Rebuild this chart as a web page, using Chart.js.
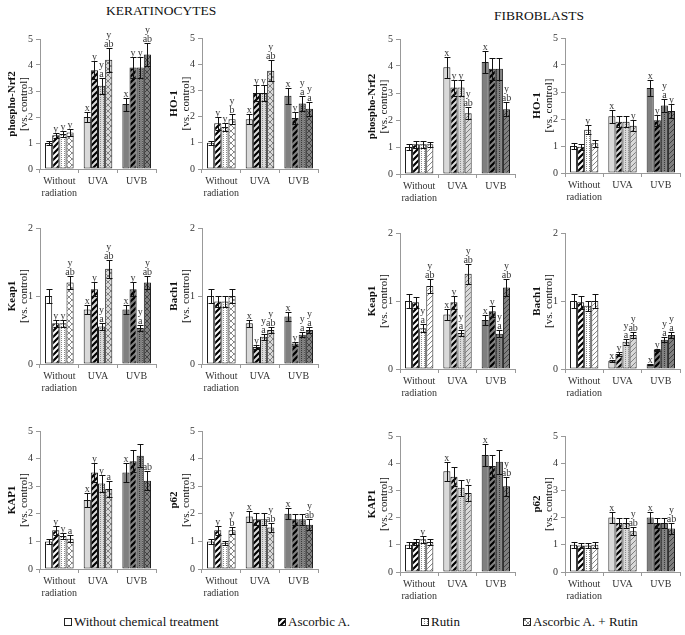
<!DOCTYPE html>
<html>
<head>
<meta charset="utf-8">
<script src="https://cdn.jsdelivr.net/npm/chart.js@4.4.1/dist/chart.umd.min.js"></script>
<style>
  body { margin: 0; background: #fff; width: 685px; height: 635px; overflow: hidden; position: relative;
         font-family: "Liberation Serif", "Times New Roman", serif; }
  canvas.panel { position: absolute; }
  .head { position: absolute; font-size: 13.5px; line-height: 14px; color: #111; }
  .leg { position: absolute; top: 614px; font-size: 13px; line-height: 16px; color: #111; white-space: nowrap; }
  .leg canvas { vertical-align: -1px; margin-right: 1px; }
</style>
</head>
<body>
<div class="head" style="left:106px;top:4px">KERATINOCYTES</div>
<div class="head" style="left:494px;top:9px">FIBROBLASTS</div>
<div class="leg" style="left:63px"><canvas class="sw" data-s="0" width="10" height="10"></canvas>Without chemical treatment</div>
<div class="leg" style="left:277px"><canvas class="sw" data-s="1" width="10" height="10"></canvas>Ascorbic A.</div>
<div class="leg" style="left:420px"><canvas class="sw" data-s="2" width="10" height="10"></canvas>Rutin</div>
<div class="leg" style="left:522px"><canvas class="sw" data-s="3" width="10" height="10"></canvas>Ascorbic A. + Rutin</div>
<script>
// categories and series
const GROUPS = [['Without', 'radiation'], 'UVA', 'UVB'];
const SERIES = ['Without chemical treatment', 'Ascorbic A.', 'Rutin', 'Ascorbic A. + Rutin'];

// values: one row per series, one column per group
const K_NRF2_MEAN = [[1.0, 2.0, 2.5], [1.3, 3.8, 3.9], [1.35, 3.2, 3.9], [1.4, 4.2, 4.4]];
const K_NRF2_ERR  = [[0.08, 0.2, 0.25], [0.1, 0.35, 0.4], [0.1, 0.3, 0.4], [0.13, 0.45, 0.45]];
const K_NRF2_SIG  = [['', 'x', 'x'], ['y', 'y', 'y'], ['y', 'y\na', 'y'], ['y', 'y\nab', 'y\nab']];

const K_HO1_MEAN = [[1.0, 1.9, 2.8], [1.75, 2.9, 1.95], [1.6, 2.9, 2.5], [1.9, 3.75, 2.3]];
const K_HO1_ERR  = [[0.08, 0.2, 0.3], [0.25, 0.3, 0.22], [0.15, 0.3, 0.3], [0.2, 0.4, 0.27]];
const K_HO1_SIG  = [['', 'x', 'x'], ['y', 'y', 'y'], ['y', 'y', 'y\na'], ['y\nb', 'y\nab', 'y\na']];

const F_NRF2_MEAN = [[1.0, 3.95, 4.15], [1.1, 3.2, 3.9], [1.1, 3.2, 3.9], [1.1, 2.25, 2.4]];
const F_NRF2_ERR  = [[0.1, 0.38, 0.42], [0.12, 0.3, 0.4], [0.12, 0.3, 0.4], [0.1, 0.22, 0.25]];
const F_NRF2_SIG  = [['', 'x', 'x'], ['', 'y', ''], ['', 'y', ''], ['', 'y\nab', 'y\nab']];

const F_HO1_MEAN = [[1.0, 2.1, 3.15], [0.97, 1.9, 1.95], [1.6, 1.9, 2.5], [1.1, 1.75, 2.3]];
const F_HO1_ERR  = [[0.1, 0.25, 0.3], [0.1, 0.2, 0.2], [0.17, 0.2, 0.25], [0.13, 0.2, 0.25]];
const F_HO1_SIG  = [['', 'x', 'x'], ['', '', 'y'], ['y', '', 'y\na'], ['', 'y', 'y']];

const K_KEAP1_MEAN = [[1.0, 0.8, 0.8], [0.6, 1.1, 1.1], [0.6, 0.55, 0.53], [1.2, 1.4, 1.2]];
const K_KEAP1_ERR  = [[0.1, 0.07, 0.07], [0.05, 0.1, 0.1], [0.05, 0.05, 0.05], [0.1, 0.13, 0.1]];
const K_KEAP1_SIG  = [['', 'x', 'x'], ['y', 'y', 'y'], ['y', 'y\na', 'y\na'], ['y\nab', 'y\nab', 'y\nab']];

const K_BACH1_MEAN = [[1.0, 0.6, 0.7], [0.92, 0.25, 0.3], [0.92, 0.4, 0.43], [1.0, 0.5, 0.5]];
const K_BACH1_ERR  = [[0.1, 0.05, 0.07], [0.08, 0.03, 0.03], [0.08, 0.04, 0.04], [0.1, 0.05, 0.05]];
const K_BACH1_SIG  = [['', 'x', 'x'], ['', 'y', 'y'], ['', 'y\na', 'y\na'], ['', 'y\nab', 'y\na']];

const F_KEAP1_MEAN = [[1.0, 0.8, 0.72], [0.98, 0.98, 0.85], [0.6, 0.53, 0.52], [1.22, 1.4, 1.2]];
const F_KEAP1_ERR  = [[0.1, 0.08, 0.07], [0.08, 0.1, 0.08], [0.06, 0.05, 0.05], [0.1, 0.15, 0.12]];
const F_KEAP1_SIG  = [['', 'x', 'x'], ['', 'y', 'y'], ['y\na', 'y\na', 'y\na'], ['y\nab', 'y\nab', 'y\nab']];

const F_BACH1_MEAN = [[1.0, 0.12, 0.07], [0.98, 0.22, 0.28], [0.93, 0.4, 0.43], [1.0, 0.5, 0.5]];
const F_BACH1_ERR  = [[0.1, 0.01, 0.01], [0.1, 0.03, 0.02], [0.07, 0.04, 0.04], [0.1, 0.05, 0.05]];
const F_BACH1_SIG  = [['', 'x', 'x'], ['', 'y', 'y'], ['', 'y\na', 'y\na'], ['', 'y\nab', 'y\na']];

const K_KAP1_MEAN = [[1.0, 2.5, 3.5], [1.4, 3.5, 3.9], [1.2, 3.1, 4.1], [1.1, 2.9, 3.2]];
const K_KAP1_ERR  = [[0.1, 0.25, 0.35], [0.15, 0.35, 0.4], [0.12, 0.3, 0.42], [0.12, 0.3, 0.35]];
const K_KAP1_SIG  = [['', 'x', 'x'], ['y', 'y', ''], ['y', 'y', ''], ['a', 'a', 'ab']];

const K_P62_MEAN = [[1.0, 1.9, 2.0], [1.4, 1.8, 1.8], [0.95, 1.8, 1.8], [1.4, 1.5, 1.6]];
const K_P62_ERR  = [[0.08, 0.2, 0.2], [0.15, 0.22, 0.2], [0.08, 0.22, 0.2], [0.12, 0.15, 0.2]];
const K_P62_SIG  = [['', 'x', 'x'], ['y', '', ''], ['', '', ''], ['y\nb', 'y\nab', 'y\nab']];

const F_KAP1_MEAN = [[1.0, 3.7, 4.3], [1.1, 3.5, 3.9], [1.2, 3.1, 4.05], [1.1, 2.9, 3.15]];
const F_KAP1_ERR  = [[0.1, 0.35, 0.4], [0.1, 0.35, 0.4], [0.12, 0.3, 0.45], [0.1, 0.3, 0.35]];
const F_KAP1_SIG  = [['', 'x', 'x'], ['', '', ''], ['y', '', ''], ['', 'y', 'y\nab']];

const F_P62_MEAN = [[1.0, 2.0, 2.0], [0.97, 1.8, 1.8], [0.97, 1.8, 1.8], [1.0, 1.5, 1.6]];
const F_P62_ERR  = [[0.1, 0.2, 0.2], [0.1, 0.2, 0.2], [0.1, 0.2, 0.2], [0.1, 0.15, 0.2]];
const F_P62_SIG  = [['', 'x', 'x'], ['', '', ''], ['', '', ''], ['', 'y\nab', 'y\nab']];

// bar fill per radiation group, hatch kind per series
const GROUP_BG = ['#ffffff', '#d9d9d9', '#7f7f7f'];
const KER_HATCH = ['solid', 'stripe', 'dots', 'cross'];
const FIB_HATCH = ['solid', 'stripe', 'dots', 'thin'];

// panel boxes: [axis left, axis right, pixel of y max, pixel of y 0]
const PANELS = [
  { title: 'phospho-Nrf2', max: 5, mean: K_NRF2_MEAN, err: K_NRF2_ERR, sig: K_NRF2_SIG, hatch: KER_HATCH, box: [40, 156, 39, 169] },
  { title: 'HO-1', max: 5, mean: K_HO1_MEAN, err: K_HO1_ERR, sig: K_HO1_SIG, hatch: KER_HATCH, box: [202, 318, 38, 169] },
  { title: 'phospho-Nrf2', max: 5, mean: F_NRF2_MEAN, err: F_NRF2_ERR, sig: F_NRF2_SIG, hatch: FIB_HATCH, box: [400, 515, 39, 174] },
  { title: 'HO-1', max: 5, mean: F_HO1_MEAN, err: F_HO1_ERR, sig: F_HO1_SIG, hatch: FIB_HATCH, box: [565, 680, 38, 173] },
  { title: 'Keap1', max: 2, mean: K_KEAP1_MEAN, err: K_KEAP1_ERR, sig: K_KEAP1_SIG, hatch: KER_HATCH, box: [40, 156, 228, 364] },
  { title: 'Bach1', max: 2, mean: K_BACH1_MEAN, err: K_BACH1_ERR, sig: K_BACH1_SIG, hatch: KER_HATCH, box: [202, 318, 228, 364] },
  { title: 'Keap1', max: 2, mean: F_KEAP1_MEAN, err: F_KEAP1_ERR, sig: F_KEAP1_SIG, hatch: FIB_HATCH, box: [400, 515, 233, 369] },
  { title: 'Bach1', max: 2, mean: F_BACH1_MEAN, err: F_BACH1_ERR, sig: F_BACH1_SIG, hatch: FIB_HATCH, box: [565, 680, 233, 369] },
  { title: 'KAP1', max: 5, mean: K_KAP1_MEAN, err: K_KAP1_ERR, sig: K_KAP1_SIG, hatch: KER_HATCH, box: [40, 156, 431, 569] },
  { title: 'p62', max: 5, mean: K_P62_MEAN, err: K_P62_ERR, sig: K_P62_SIG, hatch: KER_HATCH, box: [202, 318, 431, 569] },
  { title: 'KAP1', max: 5, mean: F_KAP1_MEAN, err: F_KAP1_ERR, sig: F_KAP1_SIG, hatch: FIB_HATCH, box: [400, 515, 436, 572] },
  { title: 'p62', max: 5, mean: F_P62_MEAN, err: F_P62_ERR, sig: F_P62_SIG, hatch: FIB_HATCH, box: [565, 680, 436, 572] },
];

const SERIF = '"Liberation Serif", "Times New Roman", serif';
const PAD_TOP = 30, AXIS_W = 40, XAXIS_H = 32;

function hatch(kind, bg) {
  if (kind === 'solid') return bg;
  const t = document.createElement('canvas');
  const dark = bg === '#7f7f7f';
  let s = 6;
  if (kind === 'dots') { t.width = 3; t.height = 2; }
  else if (kind === 'thin') { s = 5; t.width = t.height = s; }
  else { t.width = t.height = s; }
  const c = t.getContext('2d');
  c.fillStyle = bg;
  c.fillRect(0, 0, t.width, t.height);
  if (kind === 'dots') {
    c.fillStyle = dark ? '#3a3a3a' : '#8a8a8a';
    c.fillRect(1, 0, 1, 1);
  } else {
    c.strokeStyle = kind === 'stripe' ? '#000' : (dark ? '#333' : '#6a6a6a');
    c.lineWidth = kind === 'stripe' ? 2.2 : 0.8;
    c.beginPath();
    c.moveTo(0, s); c.lineTo(s, 0);
    c.moveTo(-s / 2, s / 2); c.lineTo(s / 2, -s / 2);
    c.moveTo(s / 2, s * 1.5); c.lineTo(s * 1.5, s / 2);
    if (kind === 'cross') {
      c.moveTo(0, 0); c.lineTo(s, s);
      c.moveTo(-s / 2, s / 2); c.lineTo(s / 2, s * 1.5);
      c.moveTo(s / 2, -s / 2); c.lineTo(s * 1.5, s / 2);
    }
    c.stroke();
  }
  return c.createPattern(t, 'repeat');
}

// error bars plus significance letters above them
const errorBars = {
  id: 'errorBars',
  afterDatasetsDraw(chart) {
    const { ctx } = chart;
    const y = chart.scales.y;
    ctx.save();
    ctx.strokeStyle = '#111';
    ctx.lineWidth = 1;
    ctx.font = '10px ' + SERIF;
    ctx.textAlign = 'center';
    ctx.fillStyle = '#333';
    chart.data.datasets.forEach((ds, i) => {
      chart.getDatasetMeta(i).data.forEach((bar, j) => {
        const v = ds.data[j], e = ds.errors[j];
        const x = Math.round(bar.x) + 0.5;
        const top = Math.round(y.getPixelForValue(v + e)) + 0.5;
        const bot = Math.round(y.getPixelForValue(Math.max(0, v - e))) + 0.5;
        const half = bar.width * 0.42;
        ctx.beginPath();
        ctx.moveTo(x, top); ctx.lineTo(x, bot);
        ctx.moveTo(x - half, top); ctx.lineTo(x + half, top);
        ctx.moveTo(x - half, bot); ctx.lineTo(x + half, bot);
        ctx.stroke();
        const lines = ds.sig[j] ? ds.sig[j].split('\n').reverse() : [];
        lines.forEach((t, k) => ctx.fillText(t, bar.x, top - 2 - k * 8.5));
      });
    });
    ctx.restore();
  }
};

// two-line y title: bold marker name and "[vs. control]"
const yTitle = {
  id: 'yTitle',
  afterDraw(chart, args, opts) {
    const { ctx, chartArea } = chart;
    const cy = (chartArea.top + chartArea.bottom) / 2;
    ctx.save();
    ctx.fillStyle = '#111';
    ctx.textAlign = 'center';
    ctx.textBaseline = 'middle';
    ctx.translate(chartArea.left - 28, cy);
    ctx.rotate(-Math.PI / 2);
    ctx.font = 'bold 11px ' + SERIF;
    ctx.fillText(opts.text, 0, 0);
    ctx.font = '11px ' + SERIF;
    ctx.fillText('[vs. control]', 0, 12);
    ctx.restore();
  }
};

PANELS.forEach(p => {
  const [axL, axR, yTop, y0] = p.box;
  const cv = document.createElement('canvas');
  cv.className = 'panel';
  cv.width = axR - axL + AXIS_W + 4;
  cv.height = (y0 - yTop) + PAD_TOP + XAXIS_H;
  cv.style.left = (axL - AXIS_W) + 'px';
  cv.style.top = (yTop - PAD_TOP) + 'px';
  document.body.appendChild(cv);

  new Chart(cv, {
    type: 'bar',
    data: {
      labels: GROUPS,
      datasets: SERIES.map((name, s) => ({
        label: name,
        data: p.mean[s],
        errors: p.err[s],
        sig: p.sig[s],
        backgroundColor: GROUP_BG.map(bg => hatch(p.hatch[s], bg)),
        borderColor: '#1a1a1a',
        borderWidth: 1,
        borderSkipped: false,
        categoryPercentage: 0.74,
        barPercentage: 1.0,
      })),
    },
    options: {
      responsive: false,
      animation: false,
      layout: { padding: { top: PAD_TOP, right: 4, left: 0, bottom: 0 } },
      plugins: { legend: { display: false }, tooltip: { enabled: false }, yTitle: { text: p.title } },
      scales: {
        x: {
          grid: { drawOnChartArea: false, tickLength: 4, color: '#999', offset: true },
          border: { color: '#999' },
          ticks: { font: { family: SERIF, size: 10, lineHeight: 1.2 }, color: '#333', padding: 2, maxRotation: 0, autoSkip: false },
          afterFit: s => { s.height = XAXIS_H; },
        },
        y: {
          min: 0, max: p.max,
          grid: { drawOnChartArea: false, tickLength: 4, color: '#999' },
          border: { color: '#999' },
          ticks: { stepSize: 1, font: { family: SERIF, size: 10 }, color: '#333', padding: 3 },
          afterFit: s => { s.width = AXIS_W; },
        },
      },
    },
    plugins: [errorBars, yTitle],
  });
});

// legend swatches use the same fills as the keratinocyte bars
document.querySelectorAll('canvas.sw').forEach(sw => {
  const s = +sw.dataset.s;
  const c = sw.getContext('2d');
  c.fillStyle = hatch(KER_HATCH[s], '#ffffff');
  c.fillRect(1, 1, 8, 8);
  c.strokeStyle = '#222';
  c.lineWidth = 1;
  c.strokeRect(1.5, 1.5, 7, 7);
});
</script>
</body>
</html>
